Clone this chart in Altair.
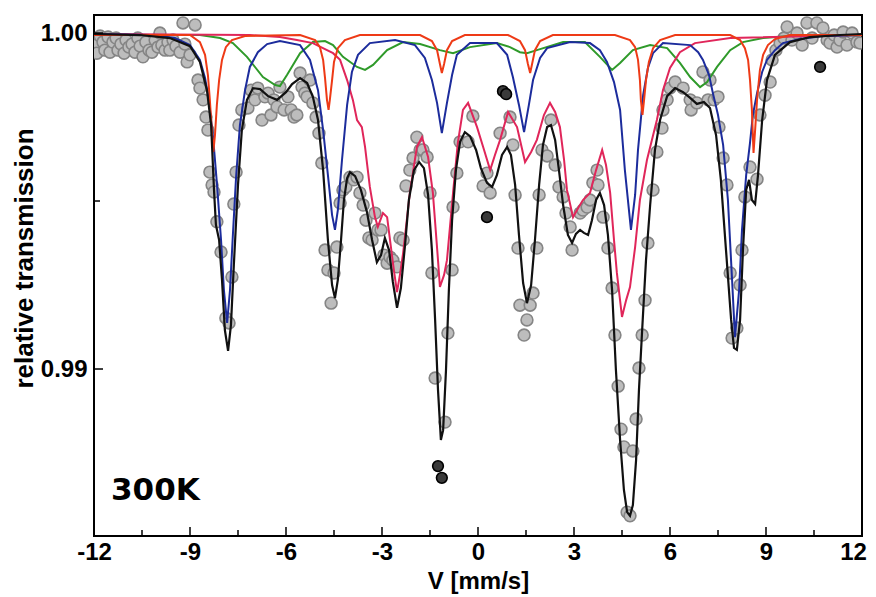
import altair as alt
import pandas as pd

# ---------------- data ----------------
x_major_ticks = [-12, -9, -6, -3, 0, 3, 6, 9, 12]
x_minor_ticks = [-10.5, -7.5, -4.5, -1.5, 1.5, 4.5, 7.5, 10.5]
y_major_ticks = [0.99, 1.00]
y_minor_ticks = [0.995]

# measured points (velocity mm/s, relative transmission)
pts_x = [-11.94, -11.91, -11.81, -11.72, -11.66, -11.56, -11.50, -11.41, -11.31, -11.25,
         -11.16, -11.06, -11.00, -10.91, -10.81, -10.72, -10.63, -10.56, -10.47, -10.38,
         -10.28, -10.19, -10.09, -10.00, -9.94, -9.88, -9.78, -9.69, -9.63, -9.53,
         -9.44, -9.31, -9.22, -9.16, -9.09, -9.00, -8.84, -8.75, -8.69, -8.59,
         -8.50, -8.44, -8.38, -8.31, -8.25, -8.16, -8.03, -7.88, -7.78, -7.69,
         -7.63, -7.56, -7.47, -7.38, -7.19, -7.09, -6.97, -6.88, -6.75, -6.66,
         -6.56, -6.47, -6.38, -6.28, -6.19, -6.06, -5.94, -5.84, -5.75, -5.66,
         -5.56, -5.50, -5.41, -5.34, -5.25, -5.16, -5.06, -4.97, -4.88, -4.78,
         -4.69, -4.59, -4.50, -4.41, -4.31, -4.22, -4.13, -4.00, -3.88, -3.78,
         -3.69, -3.59, -3.50, -3.41, -3.31, -3.22, -3.13, -3.03, -2.94, -2.84,
         -2.75, -2.66, -2.53, -2.44, -2.34, -2.25, -2.13, -2.03, -1.91, -1.81,
         -1.72, -1.59, -1.50, -1.44, -1.34, -1.03, -0.94, -0.81, -0.78, -0.66,
         -0.56, -0.31, -0.16, 0.16, 0.28, 0.38, 0.69, 1.00, 1.09, 1.16,
         1.25, 1.31, 1.44, 1.53, 1.63, 1.72, 1.84, 1.91, 2.00, 2.16,
         2.28, 2.41, 2.53, 2.66, 2.75, 2.88, 2.94, 3.19, 3.28, 3.41,
         3.50, 3.59, 3.72, 3.75, 3.91, 4.06, 4.19, 4.28, 4.38, 4.47,
         4.56, 4.66, 4.75, 4.84, 4.94, 5.03, 5.13, 5.22, 5.31, 5.47,
         5.59, 5.75, 5.78, 5.91, 6.00, 6.16, 6.41, 6.63, 6.66, 6.84,
         7.03, 7.19, 7.25, 7.38, 7.50, 7.53, 7.66, 7.78, 7.88, 7.94,
         8.09, 8.19, 8.25, 8.34, 8.50, 8.72, 8.81, 8.97, 9.13, 9.19,
         9.31, 9.44, 9.56, 9.66, 9.81, 9.97, 10.13, 10.28, 10.44, 10.59,
         10.78, 10.91, 11.00, 11.13, 11.22, 11.31, 11.41, 11.53, 11.69, 11.84,
         11.94]
pts_y = [0.99964, 0.99940, 0.99991, 0.99973, 0.99949, 0.99988, 0.99943, 0.99973, 0.99985, 0.99949,
         0.99967, 0.99940, 0.99979, 0.99958, 0.99967, 0.99943, 0.99985, 0.99961, 0.99929, 0.99973,
         0.99949, 0.99943, 0.99979, 0.99958, 1.00000, 0.99964, 0.99949, 0.99973, 0.99949, 0.99979,
         0.99961, 0.99943, 1.00030, 0.99967, 0.99914, 0.99935, 1.00024, 0.99860, 0.99836, 0.99801,
         0.99750, 0.99711, 0.99586, 0.99548, 0.99527, 0.99438, 0.99348, 0.99152, 0.99137, 0.99274,
         0.99491, 0.99586, 0.99726, 0.99771, 0.99777, 0.99830, 0.99801, 0.99836, 0.99741, 0.99810,
         0.99821, 0.99756, 0.99801, 0.99780, 0.99839, 0.99771, 0.99810, 0.99771, 0.99750, 0.99756,
         0.99881, 0.99839, 0.99821, 0.99810, 0.99860, 0.99792, 0.99750, 0.99702, 0.99613, 0.99354,
         0.99295, 0.99196, 0.99286, 0.99363, 0.99494, 0.99533, 0.99542, 0.99571, 0.99563, 0.99571,
         0.99524, 0.99488, 0.99443, 0.99390, 0.99384, 0.99464, 0.99414, 0.99414, 0.99339, 0.99315,
         0.99333, 0.99324, 0.99304, 0.99390, 0.99384, 0.99545, 0.99592, 0.99628, 0.99690, 0.99652,
         0.99652, 0.99631, 0.99524, 0.99286, 0.98973, 0.98842, 0.99107, 0.99295, 0.99482, 0.99583,
         0.99676, 0.99676, 0.99753, 0.99545, 0.99583, 0.99524, 0.99702, 0.99750, 0.99667, 0.99518,
         0.99360, 0.99190, 0.99101, 0.99146, 0.99190, 0.99226, 0.99360, 0.99518, 0.99652, 0.99634,
         0.99741, 0.99607, 0.99542, 0.99512, 0.99464, 0.99423, 0.99354, 0.99464, 0.99473, 0.99482,
         0.99503, 0.99554, 0.99592, 0.99548, 0.99452, 0.99360, 0.99241, 0.99101, 0.98949, 0.98821,
         0.98768, 0.98574, 0.98563, 0.98756, 0.98851, 0.99003, 0.99101, 0.99205, 0.99375, 0.99533,
         0.99646, 0.99717, 0.99771, 0.99801, 0.99836, 0.99854, 0.99836, 0.99801, 0.99771, 0.99792,
         0.99884, 0.99801, 0.99860, 0.99801, 0.99810, 0.99720, 0.99628, 0.99548, 0.99286, 0.99092,
         0.99122, 0.99250, 0.99354, 0.99512, 0.99601, 0.99565, 0.99756, 0.99815, 0.99854, 0.99920,
         0.99949, 0.99970, 0.99985, 1.00018, 0.99979, 1.00000, 0.99964, 1.00030, 0.99985, 1.00030,
         1.00015, 0.99979, 0.99970, 0.99994, 0.99958, 0.99979, 1.00003, 0.99964, 1.00000, 0.99973,
         0.99970]

# marked (excluded) points
marked_x = [-1.25, -1.13, 0.28, 0.78, 0.88, 10.69]
marked_y = [0.98711, 0.98676, 0.99452, 0.99827, 0.99818, 0.99899]

# total fit (black)
fit_x = [-12.00, -10.56, -9.63, -9.00, -8.69, -8.47, -8.34, -8.25, -8.19, -8.09,
         -8.00, -7.91, -7.81, -7.72, -7.63, -7.50, -7.38, -7.22, -7.03, -6.81,
         -6.56, -6.28, -6.00, -5.81, -5.56, -5.34, -5.16, -5.00, -4.84, -4.69,
         -4.56, -4.47, -4.38, -4.28, -4.19, -4.09, -4.00, -3.84, -3.66, -3.47,
         -3.31, -3.16, -3.03, -2.91, -2.78, -2.66, -2.53, -2.41, -2.28, -2.16,
         -2.00, -1.84, -1.69, -1.56, -1.44, -1.34, -1.25, -1.16, -1.09, -1.00,
         -0.91, -0.81, -0.69, -0.56, -0.41, -0.25, -0.06, 0.09, 0.28, 0.44,
         0.59, 0.75, 0.91, 1.03, 1.16, 1.28, 1.41, 1.53, 1.66, 1.78,
         1.91, 2.03, 2.16, 2.28, 2.41, 2.53, 2.66, 2.81, 2.94, 3.06,
         3.19, 3.31, 3.44, 3.56, 3.69, 3.81, 3.94, 4.06, 4.19, 4.31,
         4.44, 4.56, 4.66, 4.75, 4.84, 4.94, 5.03, 5.13, 5.25, 5.38,
         5.53, 5.69, 5.91, 6.16, 6.41, 6.63, 6.84, 7.06, 7.25, 7.44,
         7.59, 7.75, 7.91, 8.00, 8.09, 8.19, 8.28, 8.38, 8.47, 8.56,
         8.66, 8.75, 8.88, 9.03, 9.28, 9.75, 10.38, 11.31, 12.00]
fit_y = [0.99997, 0.99994, 0.99985, 0.99961, 0.99914, 0.99830, 0.99726, 0.99533, 0.99429, 0.99384,
         0.99265, 0.99116, 0.99054, 0.99131, 0.99310, 0.99548, 0.99711, 0.99801, 0.99836, 0.99833,
         0.99812, 0.99801, 0.99824, 0.99848, 0.99866, 0.99851, 0.99810, 0.99741, 0.99592, 0.99384,
         0.99250, 0.99211, 0.99265, 0.99384, 0.99503, 0.99568, 0.99586, 0.99574, 0.99533, 0.99467,
         0.99384, 0.99318, 0.99339, 0.99390, 0.99354, 0.99259, 0.99182, 0.99241, 0.99369, 0.99503,
         0.99592, 0.99616, 0.99598, 0.99518, 0.99354, 0.99146, 0.98938, 0.98789, 0.98818, 0.98997,
         0.99235, 0.99443, 0.99592, 0.99676, 0.99705, 0.99693, 0.99652, 0.99598, 0.99554, 0.99542,
         0.99577, 0.99637, 0.99661, 0.99637, 0.99548, 0.99399, 0.99256, 0.99196, 0.99250, 0.99384,
         0.99548, 0.99667, 0.99720, 0.99726, 0.99682, 0.99592, 0.99488, 0.99399, 0.99375, 0.99402,
         0.99414, 0.99405, 0.99399, 0.99443, 0.99503, 0.99524, 0.99488, 0.99399, 0.99235, 0.98997,
         0.98789, 0.98640, 0.98574, 0.98563, 0.98595, 0.98729, 0.98938, 0.99116, 0.99324, 0.99488,
         0.99652, 0.99741, 0.99812, 0.99836, 0.99824, 0.99807, 0.99789, 0.99795, 0.99777, 0.99696,
         0.99563, 0.99354, 0.99146, 0.99063, 0.99057, 0.99146, 0.99354, 0.99533, 0.99563, 0.99503,
         0.99491, 0.99577, 0.99741, 0.99860, 0.99935, 0.99973, 0.99988, 0.99994, 0.99997]

# sextet 1 (red)
red_x = [-12.00, -9.00, -8.69, -8.53, -8.44, -8.38, -8.31, -8.27, -8.22, -8.16, -8.09, -8.00, -7.88, -7.69, -7.28,
         -5.56, -5.09, -4.94, -4.84, -4.78, -4.72, -4.67, -4.63, -4.56, -4.50, -4.38, -4.16, -3.69,
         -1.81, -1.44, -1.28, -1.19, -1.13, -1.06, -0.97, -0.81, -0.41,
         0.94, 1.31, 1.47, 1.56, 1.63, 1.69, 1.78, 1.94, 2.34,
         4.28, 4.75, 4.91, 5.00, 5.06, 5.09, 5.14, 5.19, 5.25, 5.34, 5.47, 5.69, 6.16,
         7.88, 8.19, 8.34, 8.44, 8.50, 8.56, 8.61, 8.66, 8.72, 8.81, 8.91, 9.06, 9.28, 9.75, 12.00]
red_y = [0.99994, 0.99994, 0.99973, 0.99935, 0.99875, 0.99801, 0.99696, 0.99646, 0.99696, 0.99786, 0.99860, 0.99920, 0.99958, 0.99979, 0.99991,
         0.99994, 0.99979, 0.99958, 0.99920, 0.99866, 0.99801, 0.99771, 0.99801, 0.99860, 0.99914, 0.99955, 0.99979, 0.99994,
         0.99994, 0.99976, 0.99949, 0.99908, 0.99881, 0.99908, 0.99949, 0.99976, 0.99994,
         0.99994, 0.99976, 0.99949, 0.99908, 0.99881, 0.99908, 0.99949, 0.99976, 0.99994,
         0.99994, 0.99979, 0.99958, 0.99920, 0.99860, 0.99801, 0.99756, 0.99801, 0.99860, 0.99914, 0.99955, 0.99979, 0.99994,
         0.99994, 0.99979, 0.99955, 0.99920, 0.99860, 0.99771, 0.99643, 0.99711, 0.99801, 0.99890, 0.99935, 0.99964, 0.99982, 0.99994, 0.99994]

# sextet 2 (blue)
blue_x = [-12.00, -10.25, -9.47, -9.00, -8.69, -8.53, -8.41, -8.28, -8.16, -8.03, -7.94, -7.84, -7.75, -7.66, -7.56,
          -7.44, -7.28, -7.13, -6.88, -6.59, -6.19,
          -5.56, -5.25, -5.00, -4.84, -4.69, -4.56, -4.47, -4.38, -4.25, -4.09, -3.94, -3.75, -3.38, -2.59,
          -1.97, -1.66, -1.44, -1.28, -1.13, -0.97, -0.81, -0.66, -0.25,
          0.59, 0.91, 1.09, 1.28, 1.44, 1.59, 1.72, 1.94, 2.16, 2.88,
          3.50, 3.81, 4.03, 4.25, 4.44, 4.59, 4.78, 4.91, 5.00, 5.16, 5.31, 5.47, 5.78,
          6.63, 6.88, 7.03, 7.22, 7.34, 7.50, 7.66, 7.81, 7.94, 8.03, 8.16, 8.25, 8.38, 8.50, 8.59, 8.72,
          8.88, 9.03, 9.28, 9.53, 10.06, 10.78, 12.00]
blue_y = [0.99997, 0.99994, 0.99985, 0.99964, 0.99920, 0.99866, 0.99801, 0.99690, 0.99554, 0.99384, 0.99235, 0.99137, 0.99235, 0.99399, 0.99571,
          0.99726, 0.99830, 0.99899, 0.99943, 0.99967, 0.99976,
          0.99964, 0.99920, 0.99830, 0.99711, 0.99577, 0.99458, 0.99414, 0.99473, 0.99622, 0.99786, 0.99884, 0.99935, 0.99970, 0.99979,
          0.99964, 0.99926, 0.99860, 0.99792, 0.99702, 0.99792, 0.99875, 0.99935, 0.99970,
          0.99970, 0.99935, 0.99869, 0.99786, 0.99705, 0.99786, 0.99860, 0.99926, 0.99955, 0.99973,
          0.99970, 0.99949, 0.99914, 0.99854, 0.99771, 0.99592, 0.99414, 0.99518, 0.99652, 0.99815, 0.99896, 0.99940, 0.99970,
          0.99964, 0.99943, 0.99920, 0.99875, 0.99821, 0.99756, 0.99667, 0.99503, 0.99265, 0.99095, 0.99235, 0.99414, 0.99577, 0.99673, 0.99756, 0.99821,
          0.99884, 0.99920, 0.99949, 0.99970, 0.99982, 0.99991, 0.99994]

# broad sextet (green)
green_x = [-12.00, -8.69, -8.06, -7.66, -7.22, -6.72, -6.34, -6.19, -5.97, -5.56,
           -5.16, -4.78, -4.53, -4.22, -3.78, -3.53, -3.28, -2.84, -2.34, -1.81,
           -1.19, -0.78, -0.25, 0.59, 1.00, 1.31, 1.53, 1.84, 2.66, 3.34,
           3.81, 4.19, 4.44, 4.84, 5.38, 5.91, 6.31, 6.63, 6.94, 7.16,
           7.47, 7.88, 8.28, 8.91, 9.75, 12.00]
green_y = [0.99994, 0.99994, 0.99985, 0.99970, 0.99929, 0.99869, 0.99845, 0.99842, 0.99875, 0.99940,
           0.99973, 0.99976, 0.99964, 0.99929, 0.99899, 0.99890, 0.99905, 0.99949, 0.99973, 0.99967,
           0.99949, 0.99940, 0.99958, 0.99970, 0.99958, 0.99943, 0.99940, 0.99949, 0.99973, 0.99973,
           0.99929, 0.99890, 0.99911, 0.99949, 0.99964, 0.99955, 0.99911, 0.99869, 0.99839, 0.99854,
           0.99899, 0.99949, 0.99973, 0.99985, 0.99991, 0.99994]

# distribution component (crimson)
pink_x = [-12.00, -7.13, -6.19, -5.66, -5.16, -4.53, -4.31, -4.09, -3.91, -3.78,
          -3.63, -3.53, -3.38, -3.22, -3.13, -2.97, -2.84, -2.75, -2.63, -2.53,
          -2.44, -2.34, -2.13, -1.91, -1.75, -1.56, -1.41, -1.25, -1.19, -1.06,
          -0.97, -0.78, -0.63, -0.47, -0.31, -0.03, 0.19, 0.38, 0.53, 0.69,
          0.94, 1.22, 1.47, 1.66, 1.84, 2.06, 2.25, 2.41, 2.56, 2.69,
          2.78, 2.97, 3.13, 3.28, 3.50, 3.69, 3.88, 4.00, 4.13, 4.25,
          4.34, 4.50, 4.63, 4.75, 4.91, 5.06, 5.28, 5.59, 5.78, 6.00,
          6.31, 6.78, 7.88, 12.00]
pink_y = [0.99997, 0.99994, 0.99988, 0.99979, 0.99970, 0.99940, 0.99920, 0.99860, 0.99801, 0.99741,
          0.99720, 0.99661, 0.99542, 0.99452, 0.99423, 0.99464, 0.99452, 0.99384, 0.99295, 0.99229,
          0.99280, 0.99345, 0.99524, 0.99661, 0.99690, 0.99631, 0.99524, 0.99324, 0.99244, 0.99280,
          0.99324, 0.99524, 0.99673, 0.99771, 0.99792, 0.99720, 0.99652, 0.99592, 0.99637, 0.99682,
          0.99765, 0.99720, 0.99616, 0.99646, 0.99682, 0.99756, 0.99792, 0.99765, 0.99720, 0.99622,
          0.99533, 0.99452, 0.99479, 0.99503, 0.99524, 0.99592, 0.99652, 0.99607, 0.99524, 0.99384,
          0.99286, 0.99155, 0.99205, 0.99244, 0.99363, 0.99503, 0.99622, 0.99741, 0.99830, 0.99896,
          0.99943, 0.99970, 0.99985, 0.99994]

# ---------------- chart ----------------
W, H = 768, 521
FONT = "Liberation Sans"

xscale = alt.Scale(domain=[-12, 12], nice=False, zero=False)
yscale = alt.Scale(domain=[0.98503, 1.000536], nice=False, zero=False)

xaxis = alt.Axis(values=x_major_ticks, labelExpr="datum.value + ''", ticks=False, domain=False,
                 grid=False, labelFont=FONT, labelFontWeight="bold", labelFontSize=24,
                 labelColor="black", labelPadding=4, labelFlush=False,
                 labelOffset={"condition": {"test": "datum.value == 12", "value": -9}, "value": 0},
                 title="V [mm/s]", titleFont=FONT, titleFontWeight="bold", titleFontSize=24,
                 titleColor="black", titleY=45, titleBaseline="middle")
yaxis = alt.Axis(values=y_major_ticks, labelExpr="format(datum.value, '.2f')", ticks=False,
                 domain=False, grid=False, labelFont=FONT, labelFontWeight="bold",
                 labelFontSize=24, labelColor="black", labelPadding=7, labelFlush=False,
                 title="relative transmission", titleFont=FONT, titleFontWeight="bold",
                 titleFontSize=26, titleColor="black", titleX=-70, titleY=243,
                 titleBaseline="middle", titleAngle=-90)

X = lambda: alt.X("v:Q", scale=xscale, axis=xaxis)
Y = lambda: alt.Y("t:Q", scale=yscale, axis=yaxis)


def curve(xs, ys, color, width=2.0):
    df = pd.DataFrame({"v": xs, "t": ys, "i": list(range(len(xs)))})
    return alt.Chart(df).mark_line(color=color, strokeWidth=width, clip=True).encode(
        x=X(), y=Y(), order="i:Q")


points = alt.Chart(pd.DataFrame({"v": pts_x, "t": pts_y})).mark_point(
    shape="circle", filled=False, size=140, fill="#bdbdbd", fillOpacity=1,
    stroke="#858585", strokeWidth=1.6, opacity=1, clip=True
).encode(x=X(), y=Y())

marked = alt.Chart(pd.DataFrame({"v": marked_x, "t": marked_y})).mark_point(
    shape="circle", filled=False, size=115, fill="#3a3a3a", fillOpacity=1,
    stroke="black", strokeWidth=1.6, opacity=1, clip=True
).encode(x=X(), y=Y())

xmaj = alt.Chart(pd.DataFrame({"v": x_major_ticks})).mark_rule(color="black", strokeWidth=1.5).encode(
    x=X(), y=alt.value(H), y2=alt.value(H - 9))
xmin = alt.Chart(pd.DataFrame({"v": x_minor_ticks})).mark_rule(color="black", strokeWidth=1.5).encode(
    x=X(), y=alt.value(H), y2=alt.value(H - 6))
ymaj = alt.Chart(pd.DataFrame({"t": y_major_ticks})).mark_rule(color="black", strokeWidth=1.5).encode(
    y=Y(), x=alt.value(0), x2=alt.value(9))
ymin = alt.Chart(pd.DataFrame({"t": y_minor_ticks})).mark_rule(color="black", strokeWidth=1.5).encode(
    y=Y(), x=alt.value(0), x2=alt.value(6))

label = alt.Chart(pd.DataFrame({"s": ["300K"]})).mark_text(
    font="DejaVu Sans", fontWeight="bold", fontSize=31, align="left", baseline="alphabetic",
    color="black"
).encode(x=alt.value(17), y=alt.value(485), text="s:N")

chart = alt.layer(
    points, marked,
    curve(green_x, green_y, "#2f9a2a"),
    curve(pink_x, pink_y, "#e0265a"),
    curve(blue_x, blue_y, "#1c2c9c"),
    curve(red_x, red_y, "#ee3a16"),
    curve(fit_x, fit_y, "#111111", 2.2),
    xmaj, xmin, ymaj, ymin, label
).properties(
    width=W, height=H,
    autosize=alt.AutoSizeParams(type="none"),
    padding={"left": 86, "top": 7, "right": 6, "bottom": 60},
    background="white"
).configure_view(stroke="black", strokeWidth=2)

chart.save("out.html", embed_options={"renderer": "svg", "actions": False})
